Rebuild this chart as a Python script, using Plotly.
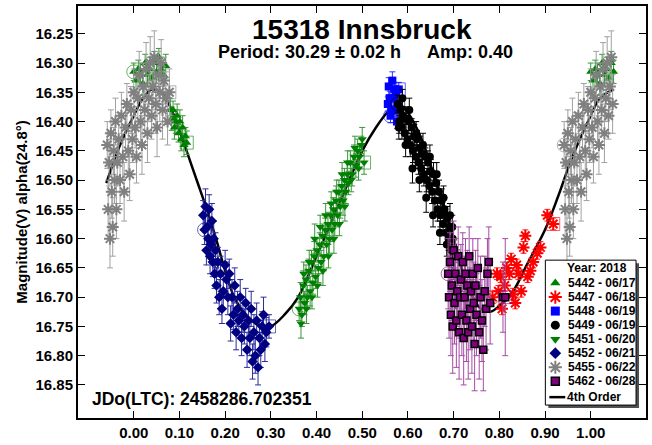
import plotly.graph_objects as go

FONT = "Liberation Sans, Arial, Helvetica, sans-serif"

# ---------------- data (phase, magnitude, error) ----------------
s5442_ph = [0.000, 0.005, 0.010, 0.015, 0.020, 0.025, 0.030, 0.035, 0.040, 0.045, 0.050, 0.055,
            0.060, 0.065, 0.070, 0.080, 0.083, 0.086, 0.089, 0.092, 0.095, 0.098, 0.101, 0.104,
            0.107, 0.110, 0.113, 0.116]
s5442_mag = [16.315, 16.33, 16.31, 16.32, 16.335, 16.30, 16.32, 16.31, 16.325, 16.30, 16.315, 16.29,
             16.31, 16.32, 16.305, 16.38, 16.395, 16.38, 16.41, 16.40, 16.39, 16.42, 16.40, 16.43,
             16.41, 16.44, 16.425, 16.436]
s5442_err = [0.015, 0.02, 0.015, 0.02, 0.02, 0.015, 0.02, 0.02, 0.015, 0.02, 0.02, 0.015,
             0.02, 0.015, 0.02, 0.02, 0.02, 0.015, 0.02, 0.02, 0.02, 0.015, 0.02, 0.02,
             0.02, 0.02, 0.015, 0.02]

s5447_ph = [0.785, 0.795, 0.798, 0.803, 0.806, 0.812, 0.816, 0.822, 0.826, 0.830, 0.835, 0.838,
            0.842, 0.848, 0.853, 0.857, 0.862, 0.868, 0.874, 0.883, 0.890, 0.905, 0.918]
s5447_mag = [16.70, 16.66, 16.69, 16.665, 16.72, 16.68, 16.65, 16.66, 16.635, 16.695, 16.71, 16.645,
             16.66, 16.69, 16.615, 16.595, 16.665, 16.655, 16.64, 16.625, 16.615, 16.56, 16.575]
s5447_err = [0.01, 0.01, 0.01, 0.01, 0.01, 0.01, 0.01, 0.01, 0.01, 0.01, 0.01, 0.01,
             0.01, 0.01, 0.01, 0.01, 0.01, 0.01, 0.01, 0.01, 0.01, 0.01, 0.01]

s5448_ph = [0.562, 0.556, 0.558, 0.560, 0.564, 0.566, 0.568, 0.570, 0.572, 0.574, 0.576, 0.578, 0.580]
s5448_mag = [16.39, 16.37, 16.34, 16.36, 16.38, 16.33, 16.36, 16.345, 16.38, 16.35, 16.40, 16.37, 16.345]
s5448_err = [0.012, 0.012, 0.015, 0.012, 0.012, 0.015, 0.012, 0.012, 0.012, 0.012, 0.012, 0.012, 0.012]

s5449_ph = [0.578, 0.581, 0.584, 0.587, 0.590, 0.593, 0.596, 0.599, 0.602, 0.605, 0.608, 0.611,
            0.614, 0.617, 0.620, 0.623, 0.626, 0.629, 0.632, 0.635, 0.638, 0.641, 0.644, 0.647,
            0.650, 0.653, 0.656, 0.659, 0.662, 0.665, 0.668, 0.671, 0.674, 0.677, 0.680, 0.683,
            0.686, 0.689, 0.692, 0.695, 0.698,
            0.580, 0.588, 0.595, 0.603, 0.610, 0.618, 0.625, 0.633, 0.640, 0.648, 0.655, 0.663,
            0.670, 0.678, 0.685, 0.692, 0.697, 0.700]
s5449_mag = [16.37, 16.40, 16.38, 16.41, 16.39, 16.42, 16.395, 16.43, 16.40, 16.44, 16.41, 16.45,
             16.425, 16.46, 16.43, 16.47, 16.445, 16.48, 16.455, 16.49, 16.46, 16.50, 16.47, 16.51,
             16.485, 16.52, 16.49, 16.535, 16.505, 16.55, 16.52, 16.56, 16.535, 16.575, 16.55, 16.59,
             16.565, 16.60, 16.58, 16.62, 16.60,
             16.41, 16.36, 16.44, 16.38, 16.48, 16.42, 16.50, 16.44, 16.53, 16.46, 16.56, 16.49,
             16.59, 16.53, 16.61, 16.56, 16.58, 16.63]
s5449_err = [0.015, 0.02, 0.015, 0.02, 0.015, 0.02, 0.02, 0.015, 0.02, 0.02, 0.015, 0.02,
             0.02, 0.02, 0.015, 0.02, 0.02, 0.02, 0.02, 0.02, 0.015, 0.02, 0.02, 0.02,
             0.02, 0.02, 0.02, 0.02, 0.02, 0.02, 0.02, 0.02, 0.02, 0.02, 0.02, 0.02,
             0.02, 0.02, 0.02, 0.02, 0.02,
             0.02, 0.015, 0.02, 0.02, 0.025, 0.02, 0.02, 0.02, 0.025, 0.02, 0.02, 0.02,
             0.02, 0.02, 0.02, 0.02, 0.02, 0.02]

s5451_ph = [0.362, 0.365, 0.368, 0.371, 0.374, 0.377, 0.380, 0.383, 0.386, 0.389, 0.392, 0.395,
            0.398, 0.401, 0.404, 0.407, 0.410, 0.413, 0.416, 0.419, 0.422, 0.425, 0.428, 0.431,
            0.434, 0.437, 0.440, 0.443, 0.446, 0.449, 0.452, 0.455, 0.458, 0.461, 0.464, 0.467,
            0.470, 0.474, 0.478, 0.482, 0.486, 0.490, 0.494, 0.498,
            0.366, 0.372, 0.378, 0.384, 0.390, 0.396, 0.402, 0.408, 0.414, 0.420, 0.426, 0.432,
            0.438, 0.444, 0.450, 0.456, 0.462, 0.468, 0.476, 0.484, 0.492, 0.500, 0.504]
s5451_mag = [16.72, 16.70, 16.73, 16.68, 16.71, 16.67, 16.70, 16.655, 16.69, 16.64, 16.675, 16.63,
             16.665, 16.62, 16.65, 16.61, 16.64, 16.595, 16.63, 16.585, 16.61, 16.575, 16.60, 16.56,
             16.585, 16.55, 16.575, 16.535, 16.56, 16.52, 16.545, 16.51, 16.535, 16.50, 16.52, 16.49,
             16.505, 16.47, 16.49, 16.46, 16.475, 16.45, 16.46, 16.44,
             16.745, 16.66, 16.72, 16.64, 16.70, 16.60, 16.68, 16.58, 16.655, 16.56, 16.63, 16.54,
             16.60, 16.52, 16.575, 16.49, 16.545, 16.47, 16.50, 16.445, 16.48, 16.43, 16.47]
s5451_err = [0.02, 0.025, 0.02, 0.025, 0.02, 0.025, 0.02, 0.02, 0.025, 0.02, 0.02, 0.025,
             0.02, 0.02, 0.025, 0.02, 0.02, 0.02, 0.025, 0.02, 0.02, 0.02, 0.025, 0.02,
             0.02, 0.02, 0.02, 0.025, 0.02, 0.02, 0.02, 0.02, 0.025, 0.02, 0.02, 0.02,
             0.02, 0.02, 0.02, 0.02, 0.02, 0.02, 0.02, 0.015,
             0.025, 0.02, 0.025, 0.02, 0.02, 0.025, 0.02, 0.02, 0.025, 0.02, 0.02, 0.02,
             0.025, 0.02, 0.02, 0.02, 0.025, 0.02, 0.02, 0.02, 0.02, 0.02, 0.02]

s5452_ph = [0.155, 0.152, 0.157, 0.159, 0.161, 0.163, 0.165, 0.167, 0.169, 0.171, 0.173, 0.175,
            0.177, 0.179, 0.181, 0.184, 0.187, 0.190, 0.193, 0.196, 0.200, 0.203, 0.206, 0.209,
            0.212, 0.215, 0.218, 0.221, 0.224, 0.227, 0.230, 0.233, 0.236, 0.239, 0.242, 0.245,
            0.248, 0.251, 0.254, 0.257, 0.260, 0.263, 0.266, 0.269, 0.272, 0.275, 0.278, 0.281,
            0.284, 0.287, 0.290, 0.296]
s5452_mag = [16.585, 16.56, 16.545, 16.62, 16.58, 16.60, 16.55, 16.63, 16.61, 16.57, 16.64, 16.60,
             16.66, 16.62, 16.68, 16.64, 16.70, 16.66, 16.72, 16.69, 16.645, 16.67, 16.70, 16.66,
             16.745, 16.70, 16.73, 16.68, 16.76, 16.72, 16.74, 16.70, 16.77, 16.73, 16.75, 16.71,
             16.79, 16.74, 16.77, 16.72, 16.81, 16.76, 16.80, 16.74, 16.82, 16.77, 16.79, 16.75,
             16.73, 16.78, 16.76, 16.75]
s5452_err = [0.025, 0.025, 0.03, 0.025, 0.03, 0.025, 0.025, 0.03, 0.025, 0.03, 0.025, 0.03,
             0.025, 0.03, 0.03, 0.025, 0.03, 0.03, 0.025, 0.03, 0.025, 0.03, 0.03, 0.025,
             0.03, 0.03, 0.025, 0.03, 0.03, 0.03, 0.025, 0.03, 0.03, 0.03, 0.03, 0.025,
             0.03, 0.03, 0.03, 0.03, 0.03, 0.03, 0.03, 0.03, 0.03, 0.03, 0.03, 0.025,
             0.03, 0.03, 0.025, 0.02]

s5455_ph = [0.942, 0.944, 0.946, 0.948, 0.950, 0.952, 0.954, 0.956, 0.958, 0.960, 0.962, 0.964,
            0.967, 0.970, 0.973, 0.976, 0.979, 0.982, 0.985, 0.988, 0.991, 0.994, 0.997, 0.000,
            0.003, 0.006, 0.009, 0.012, 0.015, 0.018, 0.021, 0.024, 0.027, 0.030, 0.033, 0.036,
            0.039, 0.042, 0.045, 0.048, 0.051, 0.054, 0.057, 0.060, 0.063, 0.066, 0.070, 0.074, 0.078]
s5455_mag = [16.44, 16.55, 16.47, 16.60, 16.42, 16.52, 16.58, 16.45, 16.50, 16.40, 16.55, 16.47,
             16.43, 16.50, 16.39, 16.46, 16.52, 16.41, 16.37, 16.45, 16.49, 16.38, 16.43, 16.35,
             16.41, 16.46, 16.36, 16.32, 16.40, 16.44, 16.34, 16.38, 16.31, 16.42, 16.36, 16.30,
             16.39, 16.34, 16.29, 16.37, 16.41, 16.32, 16.35, 16.30, 16.38, 16.33, 16.36, 16.40, 16.35]
s5455_err = [0.04, 0.05, 0.04, 0.05, 0.04, 0.045, 0.05, 0.04, 0.04, 0.04, 0.05, 0.04,
             0.045, 0.04, 0.04, 0.04, 0.05, 0.04, 0.035, 0.04, 0.045, 0.04, 0.04, 0.04,
             0.035, 0.045, 0.04, 0.04, 0.04, 0.05, 0.04, 0.04, 0.045, 0.05, 0.04, 0.045,
             0.04, 0.04, 0.045, 0.05, 0.05, 0.04, 0.05, 0.04, 0.05, 0.04, 0.045, 0.04, 0.04]

s5462_ph = [0.688, 0.690, 0.692, 0.694, 0.696, 0.698, 0.700, 0.702, 0.704, 0.706, 0.708, 0.710,
            0.712, 0.714, 0.716, 0.718, 0.720, 0.722, 0.724, 0.726, 0.728, 0.730, 0.732, 0.734,
            0.736, 0.738, 0.740, 0.742, 0.744, 0.746, 0.748, 0.750, 0.753, 0.756, 0.759, 0.762,
            0.765, 0.768, 0.771, 0.774, 0.777, 0.780, 0.808, 0.813]
s5462_mag = [16.66, 16.70, 16.64, 16.73, 16.68, 16.75, 16.62, 16.71, 16.66, 16.74, 16.69, 16.63,
             16.76, 16.70, 16.67, 16.73, 16.64, 16.77, 16.70, 16.66, 16.74, 16.68, 16.76, 16.63,
             16.72, 16.69, 16.75, 16.66, 16.71, 16.78, 16.68, 16.73, 16.65, 16.76, 16.70, 16.74,
             16.79, 16.69, 16.72, 16.66, 16.64, 16.71, 16.70, 16.70]
s5462_err = [0.06, 0.07, 0.05, 0.07, 0.06, 0.08, 0.05, 0.07, 0.06, 0.08, 0.06, 0.05,
             0.08, 0.07, 0.06, 0.07, 0.05, 0.08, 0.07, 0.06, 0.07, 0.06, 0.08, 0.05,
             0.07, 0.06, 0.08, 0.06, 0.07, 0.08, 0.06, 0.07, 0.05, 0.08, 0.07, 0.07,
             0.07, 0.06, 0.07, 0.06, 0.06, 0.07, 0.06, 0.10]

fit_ph = [-0.06, -0.03, 0.00, 0.02, 0.04, 0.06, 0.08, 0.10, 0.12, 0.14, 0.16, 0.18, 0.20, 0.22,
          0.25, 0.28, 0.30, 0.33, 0.36, 0.40, 0.45, 0.50, 0.53, 0.56, 0.58, 0.60, 0.63, 0.66,
          0.70, 0.73, 0.76, 0.78, 0.80, 0.83, 0.86, 0.90, 0.93, 0.96, 1.00, 1.02, 1.05]
fit_mag = [16.505, 16.44, 16.39, 16.36, 16.345, 16.35, 16.375, 16.415, 16.46, 16.505, 16.55, 16.60,
           16.655, 16.70, 16.735, 16.75, 16.75, 16.73, 16.70, 16.63, 16.54, 16.45, 16.41, 16.38,
           16.37, 16.385, 16.43, 16.50, 16.60, 16.68, 16.72, 16.725, 16.715, 16.69, 16.645, 16.585,
           16.525, 16.46, 16.39, 16.36, 16.345]

x_ticks = [0.0, 0.1, 0.2, 0.3, 0.4, 0.5, 0.6, 0.7, 0.8, 0.9, 1.0]
y_ticks = [16.25, 16.30, 16.35, 16.40, 16.45, 16.50, 16.55, 16.60, 16.65, 16.70, 16.75, 16.80, 16.85]

title_text = "15318 Innsbruck"
period_text = "Period: 30.29 ± 0.02 h"
amp_text = "Amp: 0.40"
jd_text = "JDo(LTC): 2458286.702351"
ytitle_text = "Magnitude(V) alpha(24.8°)"
legend_title = "Year: 2018"
fit_name = "4th Order"

series = [
    dict(name="5442 - 06/17", ph=s5442_ph, mag=s5442_mag, err=s5442_err, symbol="triangle-up",
         color="#008000", ecolor="#3a963a", size=8, lcolor="#008000", lw=0),
    dict(name="5447 - 06/18", ph=s5447_ph, mag=s5447_mag, err=s5447_err, symbol="asterisk",
         color="#ff0000", ecolor="#ff2a2a", size=10, lcolor="#ff0000", lw=2),
    dict(name="5448 - 06/19", ph=s5448_ph, mag=s5448_mag, err=s5448_err, symbol="square",
         color="#0000ff", ecolor="#3232ff", size=8, lcolor="#0000ff", lw=0),
    dict(name="5449 - 06/19", ph=s5449_ph, mag=s5449_mag, err=s5449_err, symbol="circle",
         color="#000000", ecolor="#000000", size=8, lcolor="#000000", lw=0),
    dict(name="5451 - 06/20", ph=s5451_ph, mag=s5451_mag, err=s5451_err, symbol="triangle-down",
         color="#008000", ecolor="#3a963a", size=8, lcolor="#008000", lw=0),
    dict(name="5452 - 06/21", ph=s5452_ph, mag=s5452_mag, err=s5452_err, symbol="diamond",
         color="#000080", ecolor="#2a2aa0", size=8, lcolor="#000080", lw=0),
    dict(name="5455 - 06/22", ph=s5455_ph, mag=s5455_mag, err=s5455_err, symbol="asterisk",
         color="#808080", ecolor="#a0a0a0", size=10, lcolor="#808080", lw=2),
    dict(name="5462 - 06/28", ph=s5462_ph, mag=s5462_mag, err=s5462_err, symbol="square",
         color="#800080", ecolor="#a44ca4", size=7, lcolor="#000000", lw=1.5),
]


def wrap(ph, mag, err, lo=-0.06, hi=1.05):
    X, Y, E = [], [], []
    for p, m, e in zip(ph, mag, err):
        for s in (-1, 0, 1):
            q = p + s
            if lo <= q <= hi:
                X.append(q)
                Y.append(m)
                E.append(e)
    return X, Y, E


fig = go.Figure()

# fitted curve (beneath data)
fig.add_trace(go.Scatter(x=fit_ph, y=fit_mag, mode="lines", line=dict(color="black", width=2.5, shape="spline"),
                         showlegend=False, hoverinfo="skip"))

for s in series:
    X, Y, E = wrap(s["ph"], s["mag"], s["err"])
    fig.add_trace(go.Scatter(
        x=X, y=Y, mode="markers", showlegend=False,
        error_y=dict(type="data", array=E, color=s["ecolor"], thickness=1, width=3),
        marker=dict(symbol=s["symbol"], size=s["size"], color=s["color"],
                    line=dict(color=s["lcolor"], width=s["lw"])),
    ))
    # first / last observation markers (open circle / open square)
    fig.add_trace(go.Scatter(
        x=[s["ph"][0]], y=[s["mag"][0]], mode="markers", showlegend=False,
        marker=dict(symbol="circle-open", size=14, color=s["color"], opacity=0.6, line=dict(width=1)),
    ))
    fig.add_trace(go.Scatter(
        x=[s["ph"][-1]], y=[s["mag"][-1]], mode="markers", showlegend=False,
        marker=dict(symbol="square-open", size=13, color=s["color"], opacity=0.6, line=dict(width=1)),
    ))

# ---------------- manual legend on a pixel overlay axis ----------------
W, H = 570, 415          # plot area size in px
L, T = 78, 5             # plot area origin in page px


def px(X):
    return X - L


def py(Y):
    return T + H - Y


bx0, bx1, by0, by1 = 547, 638, 261, 407
fig.add_trace(go.Scatter(x=[px(bx0 + 3), px(bx1 + 3), px(bx1 + 3), px(bx0 + 3), px(bx0 + 3)],
                         y=[py(by0 + 3), py(by0 + 3), py(by1 + 3), py(by1 + 3), py(by0 + 3)],
                         xaxis="x2", yaxis="y2", mode="lines", fill="toself", fillcolor="#505050",
                         line=dict(color="#505050", width=0), showlegend=False, hoverinfo="skip"))
fig.add_trace(go.Scatter(x=[px(bx0), px(bx1), px(bx1), px(bx0), px(bx0)],
                         y=[py(by0), py(by0), py(by1), py(by1), py(by0)],
                         xaxis="x2", yaxis="y2", mode="lines", fill="toself", fillcolor="white",
                         line=dict(color="black", width=1), showlegend=False, hoverinfo="skip"))

annotations = []
row0, dy = 284.0, 14.15
for i, s in enumerate(series):
    yy = py(row0 + i * dy)
    fig.add_trace(go.Scatter(x=[px(557)], y=[yy], xaxis="x2", yaxis="y2", mode="markers",
                             marker=dict(symbol=s["symbol"], size=s["size"] + 1, color=s["color"],
                                         line=dict(color=s["lcolor"], width=s["lw"])),
                             showlegend=False, hoverinfo="skip"))
    annotations.append(dict(x=px(568), y=yy, xref="x2", yref="y2", text=s["name"], showarrow=False,
                            xanchor="left", yanchor="middle",
                            font=dict(family=FONT, size=12, color="black", weight="bold")))
yl = py(399)
fig.add_trace(go.Scatter(x=[px(551), px(567)], y=[yl, yl], xaxis="x2", yaxis="y2", mode="lines",
                         line=dict(color="black", width=2.5), showlegend=False, hoverinfo="skip"))
annotations.append(dict(x=px(567), y=yl, xref="x2", yref="y2", text=fit_name, showarrow=False,
                        xanchor="left", yanchor="middle",
                        font=dict(family=FONT, size=12, color="black", weight="bold")))
annotations.append(dict(x=px(599), y=py(269), xref="x2", yref="y2", text=legend_title, showarrow=False,
                        xanchor="center", yanchor="middle",
                        font=dict(family=FONT, size=12, color="black", weight="bold")))

# ---------------- titles / texts ----------------
annotations += [
    dict(x=(362.5 - L) / W, y=(T + H - 28.5) / H, xref="paper", yref="paper", text=title_text,
         showarrow=False, xanchor="center", yanchor="middle", height=22, borderpad=0,
         font=dict(family=FONT, size=28, color="black", weight="bold")),
    dict(x=(217 - L) / W, y=(T + H - 51) / H, xref="paper", yref="paper", text=period_text,
         showarrow=False, xanchor="left", yanchor="middle", height=19, borderpad=0,
         font=dict(family=FONT, size=18, color="black", weight="bold")),
    dict(x=(427 - L) / W, y=(T + H - 51) / H, xref="paper", yref="paper", text=amp_text,
         showarrow=False, xanchor="left", yanchor="middle", height=19, borderpad=0,
         font=dict(family=FONT, size=18, color="black", weight="bold")),
    dict(x=(90 - L) / W, y=(T + H - 401) / H, xref="paper", yref="paper", text=jd_text,
         showarrow=False, xanchor="left", yanchor="middle",
         font=dict(family=FONT, size=17.5, color="black", weight="bold")),
    dict(x=(21 - L) / W, y=(T + H - 212) / H, xref="paper", yref="paper", text=ytitle_text,
         showarrow=False, xanchor="center", yanchor="middle", textangle=-90,
         font=dict(family=FONT, size=15, color="black", weight="bold")),
]

fig.update_layout(
    width=652, height=445,
    margin=dict(l=L, r=652 - L - W, t=T, b=445 - T - H),
    paper_bgcolor="white", plot_bgcolor="white",
    showlegend=False,
    annotations=annotations,
    xaxis=dict(range=[-0.122, 1.121], tickvals=x_ticks, ticktext=["%.2f" % v for v in x_ticks],
               ticks="inside", ticklen=7, tickwidth=1, tickcolor="black", mirror="allticks",
               showline=True, linecolor="black", linewidth=2, showgrid=False, zeroline=False,
               tickfont=dict(family=FONT, size=15, color="black", weight="bold")),
    yaxis=dict(range=[16.9065, 16.2025], tickvals=y_ticks, ticktext=["%.2f" % v for v in y_ticks],
               ticks="inside", ticklen=7, tickwidth=1, tickcolor="black", mirror="allticks",
               showline=True, linecolor="black", linewidth=2, showgrid=False, zeroline=False,
               tickfont=dict(family=FONT, size=15, color="black", weight="bold")),
    xaxis2=dict(range=[0, W], overlaying="x", visible=False, anchor="y2", fixedrange=True),
    yaxis2=dict(range=[0, H], overlaying="y", visible=False, anchor="x2", fixedrange=True),
)

fig.write_html("out.html", config={"displayModeBar": False},
               post_script="document.body.style.margin='0px';document.body.style.overflow='hidden';")
